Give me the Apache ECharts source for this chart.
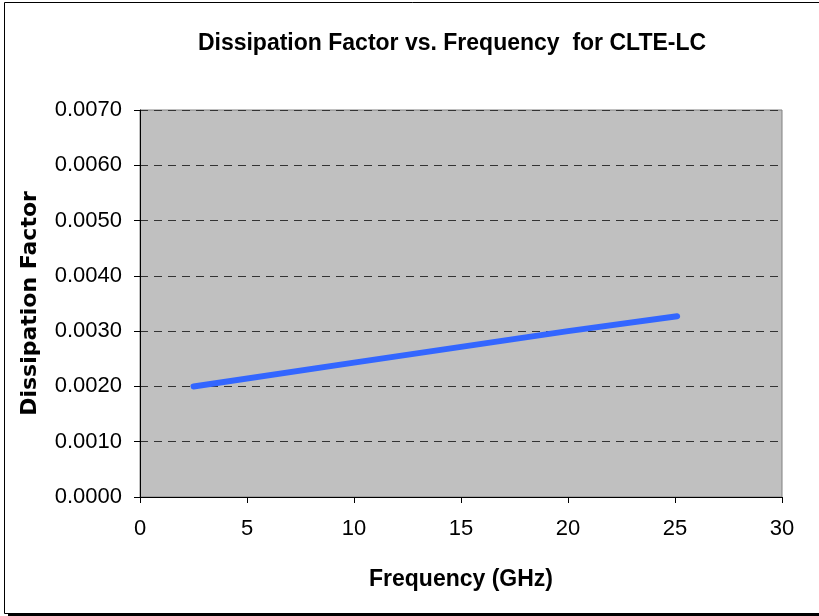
<!DOCTYPE html>
<html>
<head>
<meta charset="utf-8">
<style>
  html, body { margin: 0; padding: 0; background: #fff; }
  #chart { width: 819px; height: 616px; }
</style>
<script src="https://cdn.jsdelivr.net/npm/echarts@6/dist/echarts.min.js"></script>
</head>
<body>
<div id="chart"></div>
<script>
var chartTitle = 'Dissipation Factor vs. Frequency  for CLTE-LC';
var xAxisName = 'Frequency (GHz)';
var yAxisName = 'Dissipation Factor';
var frequencyGHz = [2.5, 10, 20, 25.1];
var dissipationFactor = [0.0020, 0.00243, 0.00300, 0.00327];
var yTickDecimals = 4;

var seriesData = frequencyGHz.map(function (f, i) { return [f, dissipationFactor[i]]; });

var chart = echarts.init(document.getElementById('chart'));
chart.setOption({
  animation: false,
  backgroundColor: '#ffffff',
  graphic: [{
    type: 'rect',
    z: -10,
    silent: true,
    shape: { x: 4.5, y: 2.5, width: 830, height: 611 },
    style: { fill: 'none', stroke: '#000', lineWidth: 1 }
  }, {
    type: 'line',
    z: -10,
    silent: true,
    shape: { x1: 8, y1: 614.5, x2: 830, y2: 614.5 },
    style: { stroke: '#000', lineWidth: 3 }
  }],
  title: {
    text: chartTitle,
    left: 447,
    textAlign: 'center',
    top: 27,
    textStyle: { fontFamily: 'Liberation Sans', fontWeight: 'bold', fontSize: 23, color: '#000' }
  },
  grid: { left: 140, top: 110, right: 37, bottom: 119, show: true, backgroundColor: '#c0c0c0', borderColor: '#808080', borderWidth: 1 },
  xAxis: {
    type: 'value',
    min: 0, max: 30, interval: 5,
    name: xAxisName,
    nameLocation: 'middle',
    nameGap: 71,
    nameTextStyle: { fontFamily: 'Liberation Sans', fontWeight: 'bold', fontSize: 23, color: '#000' },
    axisLine: { show: true, onZero: false, lineStyle: { color: '#000', width: 1 } },
    axisTick: { show: true, length: 6, lineStyle: { color: '#000' } },
    axisLabel: { fontFamily: 'Liberation Sans', fontSize: 22, color: '#000', margin: 21 },
    splitLine: { show: false }
  },
  yAxis: {
    type: 'value',
    min: 0, max: 0.007, interval: 0.001,
    name: yAxisName,
    nameLocation: 'middle',
    nameRotate: 90,
    nameGap: 99,
    nameTextStyle: { fontFamily: 'DejaVu Sans', fontWeight: 'bold', fontSize: 22, color: '#000' },
    axisLine: { show: true, lineStyle: { color: '#000', width: 1 } },
    axisTick: { show: true, length: 6, lineStyle: { color: '#000' } },
    axisLabel: {
      fontFamily: 'Liberation Sans', fontSize: 22, color: '#000', margin: 18,
      formatter: function (v) { return v.toFixed(yTickDecimals); }
    },
    splitLine: { show: true, lineStyle: { color: '#333', type: [8, 6], width: 1 } }
  },
  series: [{
    type: 'line',
    data: seriesData,
    showSymbol: false,
    symbol: 'none',
    lineStyle: { color: '#3366ff', width: 6, cap: 'round', join: 'round' }
  }]
});
</script>
</body>
</html>
